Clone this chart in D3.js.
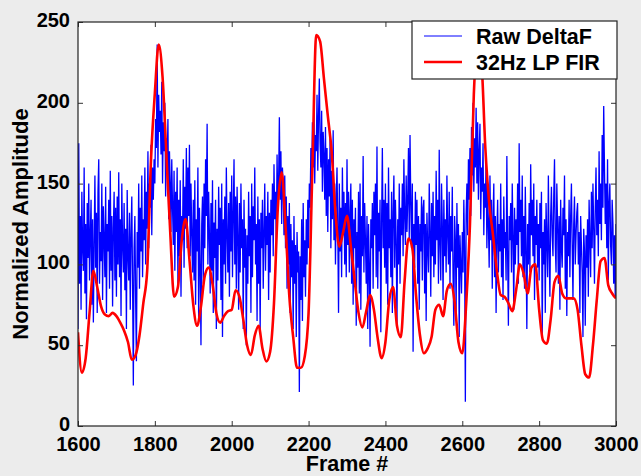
<!DOCTYPE html>
<meta charset="utf-8">
<script src="https://d3js.org/d3.v7.min.js"></script>
<style>
  body { margin: 0; background: #ececec; }
  text { font-family: "Liberation Sans", Arial, sans-serif; font-weight: bold; }
</style>
<div id="my_dataviz"></div>

<script>

    // frame axis ticks / amplitude ticks
    var xTicks = [1600, 1800, 2000, 2200, 2400, 2600, 2800, 3000]
    var yTicks = [0, 50, 100, 150, 200, 250]

    // raw DeltaF, one value every 2 frames starting at 1600
    var rawStart = 1600, rawStep = 2
    var rawValues = [
      // 1600
      60,175,88,130,72,145,110,96,160,82, 125,66,138,104,150,90,118,140,75,128,
      64,112,155,98,132,70,145,165,88,120, 102,150,78,136,115,92,148,70,125,108,
      140,85,158,96,130,74,122,145,90,135,
      // 1700
      80,142,100,157,92,128,68,150,112,95, 138,84,122,60,146,105,90,132,72,118,
      142,88,25,110,130,78,40,120,98,150, 85,135,108,155,92,128,115,160,100,145,
      122,170,110,150,135,174,118,160,140,165,
      // 1800
      150,190,172,236,160,205,182,195,168,213, 150,188,170,200,142,178,160,190,128,170,
      150,120,165,135,112,158,96,145,120,160, 88,140,105,152,80,130,115,165,98,148,
      122,172,110,160,130,174,105,150,118,95,
      // 1900
      140,90,152,75,128,108,160,65,135,98, 50,125,142,88,150,110,165,130,187,100,
      145,118,82,138,96,152,70,126,104,140, 60,122,90,148,112,135,78,150,55,128,
      100,142,88,160,118,95,138,80,145,108,
      // 2000
      155,92,130,165,100,142,85,148,118,72, 138,95,150,110,128,60,140,98,122,50,
      118,88,145,105,130,70,150,92,136,115, 160,100,125,65,142,88,128,58,132,110,
      140,85,120,150,96,130,112,145,78,132,
      // 2100
      95,140,118,150,105,162,128,145,112,168, 135,150,191,140,170,125,160,148,118,155,
      110,142,85,130,100,138,70,125,92,115, 60,130,88,112,55,120,95,108,21,105,
      78,128,65,138,92,115,80,128,100,140,
      // 2200
      110,150,135,172,148,188,160,198,150,180, 170,205,158,192,215,175,160,195,145,182,
      168,140,185,130,172,120,165,142,178,110, 158,128,183,115,150,100,140,160,122,70,
      150,108,135,92,160,118,145,100,138,92,
      // 2300
      165,112,145,95,132,150,88,140,75,128, 110,135,62,120,98,145,82,150,72,130,
      105,167,95,138,115,88,130,60,125,100, 49,128,110,138,85,145,118,150,92,173,
      85,132,108,140,58,125,172,110,140,98,
      // 2400
      150,88,138,75,160,110,128,92,145,70, 132,155,98,140,115,62,128,100,150,88,
      135,118,150,105,165,130,112,155,120,140, 172,115,180,138,110,150,46,125,98,145,
      112,140,88,130,72,125,108,142,90,135,
      // 2500
      140,82,125,65,132,110,95,150,120,80, 138,105,145,92,130,100,158,115,140,88,
      171,112,90,150,125,78,140,105,128,95, 155,118,100,145,85,130,108,148,92,62,
      130,115,70,138,98,125,55,118,100,82,
      // 2600
      120,95,140,110,15,130,150,118,165,140, 172,130,185,155,200,145,178,160,197,150,
      188,140,170,187,128,160,145,175,118,150, 135,165,110,145,125,98,155,115,140,85,
      128,150,92,130,70,118,140,95,125,108,
      // 2700
      150,92,128,78,142,110,120,90,167,105, 62,130,115,138,95,150,118,72,135,100,
      128,112,150,88,175,120,140,105,155,92, 130,85,148,110,60,125,100,138,95,162,
      118,140,105,150,78,130,112,140,98,125,
      // 2800
      90,138,110,145,55,120,100,128,70,138, 115,92,155,108,80,130,148,118,105,142,
      165,112,95,150,125,88,130,72,140,110, 98,135,118,155,85,128,68,120,105,140,
      92,130,150,112,78,125,142,100,118,132,
      // 2900
      138,100,120,70,130,112,95,55,122,108, 62,118,98,128,80,140,115,92,145,110,
      150,122,88,135,160,118,140,105,170,125, 150,115,180,135,198,160,125,150,110,165,
      90,138,150,112,100,140,125,88,118,80,
      125
    ]

    // 32Hz LP FIR output, one value every 10 frames starting at 1600
    var firStart = 1600, firStep = 10
    var firValues = [
      58,33,42,70,96,86,74,69,68,70,
      68,64,59,52,41,44,56,76,96,165,
      206,236,216,168,120,80,86,115,128,103,
      75,62,74,93,98,88,70,64,68,71,
      72,84,80,66,50,44,56,62,48,40,
      46,76,135,157,124,80,55,36,36,43,
      70,160,242,238,215,192,170,132,111,120,
      130,111,90,70,61,71,81,72,54,42,
      52,78,86,62,55,90,116,110,80,56,
      45,48,55,72,75,68,84,88,77,52,
      45,75,125,205,238,225,172,138,118,96,
      81,80,76,71,84,100,94,82,98,100,
      72,53,51,66,89,93,82,79,79,79,
      72,50,32,30,50,78,102,104,87,82,
      79
    ]

    var seriesNames = ["Raw DeltaF", "32Hz LP FIR"]
    var seriesColors = ["#0000ff", "#ff0000"]

    var raw = rawValues.map(function(v, i) { return {f: rawStart + i * rawStep, v: v} })
    var fir = firValues.map(function(v, i) { return {f: firStart + i * firStep, v: v} })

    // set the dimensions and margins of the graph
    var margin = {top: 22, right: 25, bottom: 50, left: 78},
      width = 641 - margin.left - margin.right,
      height = 476 - margin.top - margin.bottom;

    var root = d3.select("#my_dataviz")
      .append("svg")
        .attr("width", 641)
        .attr("height", 476)
    root.append("rect")
      .attr("width", 641).attr("height", 476).attr("fill", "#ececec")

    var svg = root.append("g")
        .attr("transform", "translate(" + margin.left + "," + margin.top + ")");

    var x = d3.scaleLinear().domain([1600, 3000]).range([0, width])
    var y = d3.scaleLinear().domain([0, 250]).range([height, 0])

    svg.append("rect")
      .attr("width", width).attr("height", height)
      .attr("fill", "white")

    svg.append("defs").append("clipPath").attr("id", "clip")
      .append("rect").attr("width", width).attr("height", height)

    var line = d3.line()
      .x(function(d) { return x(d.f) })
      .y(function(d) { return y(d.v) })

    var plot = svg.append("g").attr("clip-path", "url(#clip)")

    plot.append("path")
      .datum(raw)
      .attr("fill", "none")
      .attr("stroke", seriesColors[0])
      .attr("stroke-width", 1.3)
      .attr("d", line)

    plot.append("path")
      .datum(fir)
      .attr("fill", "none")
      .attr("stroke", seriesColors[1])
      .attr("stroke-width", 2.6)
      .attr("stroke-linejoin", "round")
      .attr("d", line.curve(d3.curveMonotoneX))

    // axes, ticks pointing inwards, mirrored on top and right
    function styleAxis(g) {
      g.select(".domain").remove()
      g.selectAll(".tick line").attr("stroke", "#333")
      g.selectAll(".tick text").attr("fill", "black").style("font-size", "20px")
    }
    svg.append("g")
      .attr("transform", "translate(0," + height + ")")
      .call(d3.axisBottom(x).tickValues(xTicks).tickSizeInner(-5).tickPadding(11).tickFormat(d3.format("d")))
      .call(styleAxis)
    svg.append("g")
      .call(d3.axisTop(x).tickValues(xTicks).tickSizeInner(-5).tickFormat(""))
      .call(styleAxis)
    svg.append("g")
      .call(d3.axisLeft(y).tickValues(yTicks).tickSizeInner(-5).tickPadding(8))
      .call(styleAxis)
      .selectAll(".tick text").attr("dy", "0.22em")
    svg.append("g")
      .attr("transform", "translate(" + width + ",0)")
      .call(d3.axisRight(y).tickValues(yTicks).tickSizeInner(-5).tickFormat(""))
      .call(styleAxis)

    svg.append("rect")
      .attr("width", width).attr("height", height)
      .attr("fill", "none").attr("stroke", "#222").attr("stroke-width", 1.2)

    // axis labels
    svg.append("text")
      .attr("x", width / 2).attr("y", height + 45)
      .attr("text-anchor", "middle")
      .style("font-size", "21.5px")
      .text("Frame #")
    svg.append("text")
      .attr("transform", "translate(-50," + (height / 2) + ") rotate(-90)")
      .attr("text-anchor", "middle")
      .style("font-size", "22px")
      .text("Normalized Amplitude")

    // legend
    var legend = svg.append("g").attr("transform", "translate(" + (width - 204) + ",-1)")
    legend.append("rect")
      .attr("width", 205).attr("height", 58)
      .attr("fill", "white").attr("stroke", "#222").attr("stroke-width", 1.2)
    seriesNames.forEach(function(name, i) {
      legend.append("line")
        .attr("x1", 12).attr("x2", 50)
        .attr("y1", 15 + i * 26).attr("y2", 15 + i * 26)
        .attr("stroke", seriesColors[i])
        .attr("stroke-width", i == 0 ? 1 : 2.5)
      legend.append("text")
        .attr("x", 64).attr("y", 23 + i * 26)
        .style("font-size", "21.5px")
        .text(name)
    })

</script>
